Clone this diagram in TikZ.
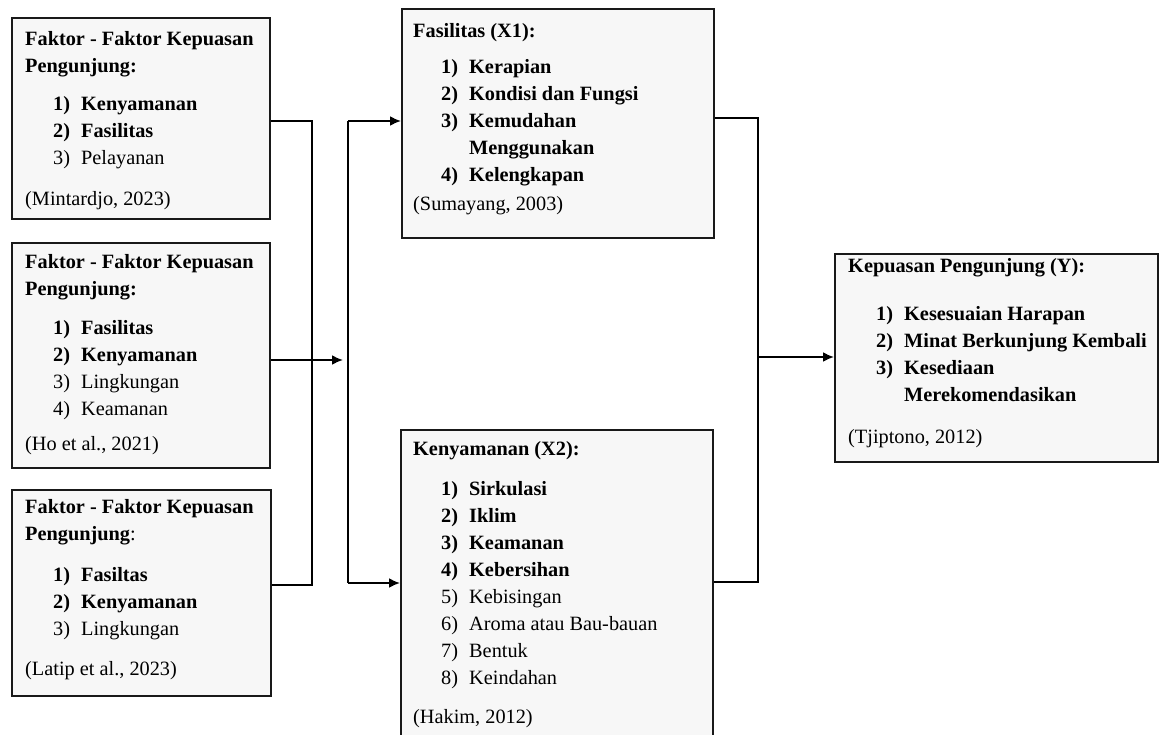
\documentclass[tikz,border=0pt]{standalone}
\usepackage{fontspec}
\setmainfont{Liberation Serif}
\usetikzlibrary{arrows.meta}
\newcommand\itm[2]{\hspace*{28pt}\makebox[28pt][l]{#1}#2}
\newcommand\bitm[2]{\hspace*{28pt}\makebox[28pt][l]{\textbf{#1}}\textbf{#2}}
\begin{document}
\begin{tikzpicture}[x=1pt,y=-1pt,
  box/.style={draw=black!90, line width=2pt, fill=black!3, rectangle, anchor=north west, inner sep=0},
  txt/.style={anchor=north west, inner sep=0, align=left, font=\fontsize{20.3}{27}\selectfont},
  conn/.style={line width=2pt},
  arr/.style={line width=2pt, -{Latex[length=11pt,width=10pt]}}]
\clip (0,0) rectangle (1159,734);
\fill[white] (0,0) rectangle (1159,734);
% boxes
\node[box, minimum width=258pt, minimum height=201pt] (L1) at (11,17) {};
\node[box, minimum width=258pt, minimum height=225pt] (L2) at (11,242) {};
\node[box, minimum width=259pt, minimum height=206pt] (L3) at (11,489) {};
\node[box, minimum width=312pt, minimum height=229pt] (M1) at (401,8) {};
\node[box, minimum width=312pt, minimum height=330pt] (M2) at (400,429) {};
\node[box, minimum width=323pt, minimum height=208pt] (R) at (834,253) {};
% texts
\node[txt] (t1) at (25,31) {\textbf{Faktor - Faktor Kepuasan}\\ \textbf{Pengunjung:}\\[11pt]
 \bitm{1)}{Kenyamanan}\\ \bitm{2)}{Fasilitas}\\ \itm{3)}{Pelayanan}\\[14pt] (Mintardjo, 2023)};
\node[txt] (t2) at (25,254) {\textbf{Faktor - Faktor Kepuasan}\\ \textbf{Pengunjung:}\\[12pt]
 \bitm{1)}{Fasilitas}\\ \bitm{2)}{Kenyamanan}\\ \itm{3)}{Lingkungan}\\ \itm{4)}{Keamanan}\\[8pt] (Ho et al., 2021)};
\node[txt] (t3) at (25,499) {\textbf{Faktor - Faktor Kepuasan}\\ \textbf{Pengunjung}:\\[14pt]
 \bitm{1)}{Fasiltas}\\ \bitm{2)}{Kenyamanan}\\ \itm{3)}{Lingkungan}\\[13pt] (Latip et al., 2023)};
\node[txt] (t4) at (413,23) {\textbf{Fasilitas (X1):}\\[9pt]
 \bitm{1)}{Kerapian}\\ \bitm{2)}{Kondisi dan Fungsi}\\ \bitm{3)}{Kemudahan}\\ \hspace*{56pt}\textbf{Menggunakan}\\ \bitm{4)}{Kelengkapan}\\[2pt] (Sumayang, 2003)};
\node[txt] (t5) at (413,441) {\textbf{Kenyamanan (X2):}\\[13pt]
 \bitm{1)}{Sirkulasi}\\ \bitm{2)}{Iklim}\\ \bitm{3)}{Keamanan}\\ \bitm{4)}{Kebersihan}\\ \itm{5)}{Kebisingan}\\ \itm{6)}{Aroma atau Bau-bauan}\\ \itm{7)}{Bentuk}\\ \itm{8)}{Keindahan}\\[12pt] (Hakim, 2012)};
\node[txt] (t6) at (848,258) {\textbf{Kepuasan Pengunjung (Y):}\\[21pt]
 \bitm{1)}{Kesesuaian Harapan}\\ \bitm{2)}{Minat Berkunjung Kembali}\\ \bitm{3)}{Kesediaan}\\ \hspace*{56pt}\textbf{Merekomendasikan}\\[15pt] (Tjiptono, 2012)};
% junctions
\coordinate (ja) at (312,121);
\coordinate (jb) at (312,585);
\coordinate (a2) at (343,360);
\coordinate (jc) at (348,121);
\coordinate (jd) at (348,583);
\coordinate (je) at (758,118);
\coordinate (jf) at (758,582);
\coordinate (jg) at (758,357);
% connectors
\draw[conn] (L1.east |- ja) -- (ja) -- (jb) -- (L3.east |- jb);
\draw[arr] (L2.east |- a2) -- (a2);
\draw[conn] (jc) -- (jd);
\draw[arr] (jc) -- (M1.west |- jc);
\draw[arr] (jd) -- (M2.west |- jd);
\draw[conn] (M1.east |- je) -- (je) -- (jf) -- (M2.east |- jf);
\draw[arr] (jg) -- (R.west |- jg);
\end{tikzpicture}
\end{document}
